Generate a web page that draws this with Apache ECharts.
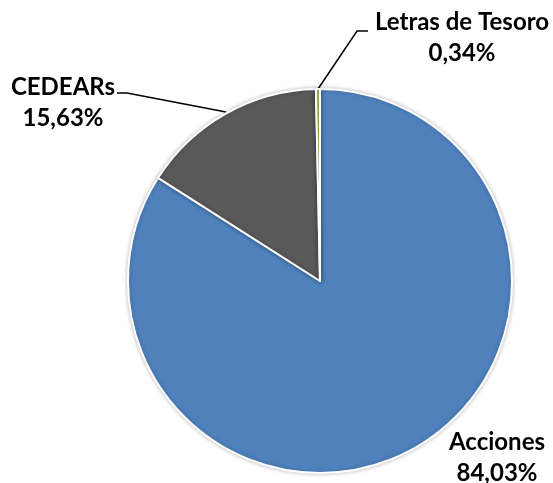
<!DOCTYPE html>
<html>
<head>
<meta charset="utf-8">
<script src="https://cdn.jsdelivr.net/npm/echarts@6/dist/echarts.min.js"></script>
<style>html,body{margin:0;padding:0;background:#fff}#c{width:553px;height:483px}</style>
</head>
<body>
<div id="c"></div>
<script>
var categories = ['Acciones', 'CEDEARs', 'Letras de Tesoro'];
var values = [84.03, 15.63, 0.34];
var colors = ['#4F81BD', '#595959', '#9BBB59'];

var labelPos = [
  {x: 497, y: 458, line: null},
  {x: 63, y: 103, line: [[226, 112], [127, 93], [117, 93]]},
  {x: 462, y: 38, line: [[318, 89], [357, 31], [368, 31]]}
];

var chart = echarts.init(document.getElementById('c'));
chart.setOption({
  animation: false,
  series: [{
    type: 'pie',
    center: [320, 281],
    radius: [0, 192],
    startAngle: 90,
    clockwise: true,
    data: categories.map(function (c, i) {
      return {
        name: c, value: values[i],
        itemStyle: {color: colors[i]},
        labelLine: {show: i !== 0}
      };
    }),
    itemStyle: {borderColor: '#fff', borderWidth: 2, shadowBlur: 4, shadowColor: 'rgba(0,0,0,0.25)'},
    label: {
      show: true,
      fontFamily: 'Lato',
      fontWeight: 'bold',
      fontSize: 24,
      lineHeight: 31,
      color: '#000',
      align: 'center',
      overflow: 'none',
      width: 200,
      formatter: function (p) {
        return p.name + '\n' + p.value.toFixed(2).replace('.', ',') + '%';
      }
    },
    labelLine: {show: true, lineStyle: {color: '#000', width: 1.5}},
    labelLayout: function (p) {
      var l = labelPos[p.dataIndex];
      var r = {x: l.x, y: l.y, align: 'center', verticalAlign: 'middle'};
      if (l.line) r.labelLinePoints = l.line;
      return r;
    }
  }]
});
</script>
</body>
</html>
